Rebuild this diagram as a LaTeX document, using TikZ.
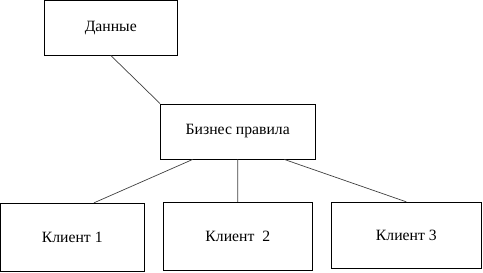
\documentclass[tikz,border=0pt]{standalone}
\usepackage{fontspec}
\setmainfont{Liberation Serif}
\usetikzlibrary{calc}
\begin{document}
\begin{tikzpicture}[x=1pt,y=-1pt,
  box/.style={draw=black,line width=0.9pt,inner sep=0pt,font=\fontsize{15.7}{18}\selectfont},
  link/.style={draw=black!75,line width=0.7pt}]
\useasboundingbox (0,0) rectangle (483,273);
\node[box,minimum width=132.5pt,minimum height=54.5pt] (d) at (110.75,27.75) {Данные};
\node[box,minimum width=154.5pt,minimum height=55pt] (b) at (237.75,131.5) {Бизнес правила};
\node[box,minimum width=143.5pt,minimum height=68pt] (k1) at (72.25,237.3) {Клиент 1};
\node[box,minimum width=149pt,minimum height=67.7pt] (k2) at (237.8,236.2) {Клиент\ \ 2};
\node[box,minimum width=149.3pt,minimum height=66pt] (k3) at (406.35,235.3) {Клиент 3};
\draw[link] (d.south) -- (b.north west);
\draw[link] ($(b.south west)!0.21!(b.south east)$) -- ($(k1.north west)!0.65!(k1.north east)$);
\draw[link] (b.south) -- (k2.north);
\draw[link] ($(b.south west)!0.8!(b.south east)$) -- (k3.north);
\end{tikzpicture}
\end{document}
